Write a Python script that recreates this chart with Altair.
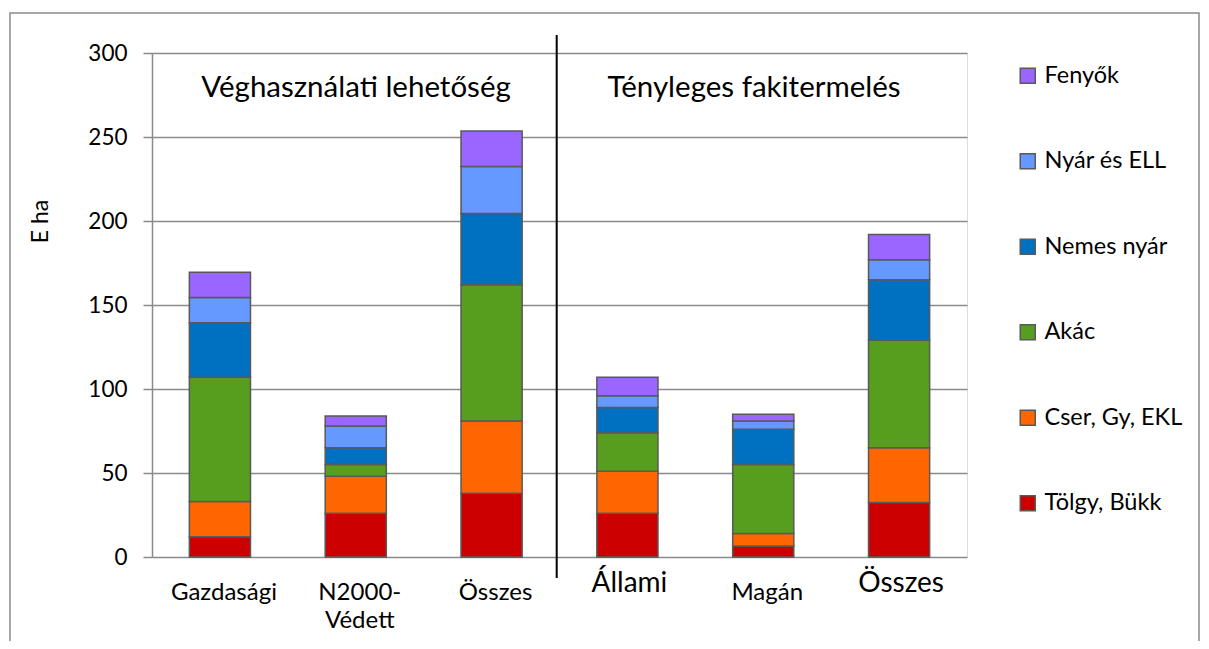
import altair as alt
import pandas as pd

# ---- data ----
groups = ["G", "N", "O1", "A", "M", "O2"]
group_labels = ["Gazdasági", "N2000-\nVédett", "Összes", "Állami", "Magán", "Összes"]
big_label_groups = ["A", "O2"]

species = ["Tölgy, Bükk", "Cser, Gy, EKL", "Akác", "Nemes nyár", "Nyár és ELL", "Fenyők"]
colors = ["#CC0000", "#FF6600", "#589E1E", "#0070C0", "#6699FF", "#9966FF"]

tolgy = [12, 26, 38, 26, 6.5, 32.5]
cser = [21, 22, 43, 25, 7.5, 32.5]
akac = [74, 7, 81, 23, 41, 64]
nemes = [32.5, 10, 42.5, 15, 21, 36]
nyar = [15, 13, 28, 7, 5, 12]
fenyo = [15, 6, 21, 11, 4, 15]

y_ticks = [0, 50, 100, 150, 200, 250, 300]
section_titles = ["Véghasználati lehetőség", "Tényleges fakitermelés"]

series = [tolgy, cser, akac, nemes, nyar, fenyo]
rows = []
for si, (sp, vals) in enumerate(zip(species, series)):
    for g, v in zip(groups, vals):
        rows.append({"group": g, "species": sp, "value": v, "ord": si})
df = pd.DataFrame(rows)

lab_df = pd.DataFrame({"group": groups, "label": group_labels})

FONT = "Lato"
GRID = "#8a8a8a"

x_enc = alt.X(
    "group:N",
    sort=groups,
    scale=alt.Scale(domain=groups, paddingInner=0.55, paddingOuter=0.275),
    axis=None,
)

bars = alt.Chart(df).mark_bar(stroke="#595959", strokeWidth=1.5).encode(
    x=x_enc,
    y=alt.Y(
        "value:Q",
        stack="zero",
        scale=alt.Scale(domain=[0, 300], nice=False),
        axis=alt.Axis(
            values=y_ticks,
            grid=True,
            gridColor=GRID,
            gridWidth=1.5,
            domainColor=GRID,
            domainWidth=1.5,
            tickColor=GRID,
            tickWidth=1.5,
            tickSize=9,
            labelFont=FONT,
            labelFontSize=22.5,
            labelColor="black",
            labelPadding=16,
            title="E ha",
            titleFont=FONT,
            titleFontSize=23,
            titleFontWeight="normal",
            titleColor="black",
            titleX=-112,
            titleY=168,
            titleAngle=270,
            titleAlign="center",
            titleBaseline="middle",
        ),
    ),
    color=alt.Color(
        "species:N",
        scale=alt.Scale(domain=species[::-1], range=colors[::-1]),
        legend=alt.Legend(
            title=None,
            orient="none",
            legendX=864,
            legendY=11,
            padding=0,
            rowPadding=60.5,
            symbolType="square",
            symbolSize=225,
            symbolStrokeColor="#595959",
            symbolStrokeWidth=1.5,
            symbolOpacity=1,
            labelFont=FONT,
            labelFontSize=23.5,
            labelColor="black",
            labelOffset=5,
        ),
    ),
    order=alt.Order("ord:Q"),
)

small_labels = alt.Chart(lab_df).transform_filter(
    alt.FieldOneOfPredicate(field="group", oneOf=["G", "N", "O1", "M"])
).mark_text(
    font=FONT, fontSize=24, align="center", baseline="alphabetic",
    dx=4, lineBreak="\n", lineHeight=28, color="black"
).encode(x=x_enc, y=alt.value(547), text="label:N")

big_labels = alt.Chart(lab_df).transform_filter(
    alt.FieldOneOfPredicate(field="group", oneOf=big_label_groups)
).mark_text(
    font=FONT, fontSize=28, align="center", baseline="alphabetic",
    dx=2, color="black"
).encode(x=x_enc, y=alt.value(539), text="label:N")

sep = alt.Chart(pd.DataFrame({"a": [0]})).mark_rule(color="black", strokeWidth=2).encode(
    x=alt.value(404.7), y=alt.value(-18), y2=alt.value(525)
)

title_left = alt.Chart(pd.DataFrame({"t": [section_titles[0]]})).mark_text(
    font=FONT, fontSize=29.5, align="center", baseline="middle", color="black"
).encode(x=alt.value(204), y=alt.value(35), text="t:N")

title_right = alt.Chart(pd.DataFrame({"t": [section_titles[1]]})).mark_text(
    font=FONT, fontSize=29.5, align="center", baseline="middle", color="black"
).encode(x=alt.value(602), y=alt.value(35), text="t:N")

border = alt.Chart(pd.DataFrame({"a": [0]})).mark_rect(
    fill="transparent", stroke=GRID, strokeWidth=1.5
).encode(x=alt.value(-142), x2=alt.value(1047), y=alt.value(-40), y2=alt.value(600))

chart = alt.layer(
    border, bars, sep, title_left, title_right, small_labels, big_labels
).properties(
    width=815,
    height=504,
    autosize=alt.AutoSizeParams(type="none"),
    padding={"left": 144, "top": 45, "right": 234, "bottom": 84},
    background="white",
).configure_view(stroke=None).configure(font=FONT)

chart.save("out.html", embed_options={"renderer": "svg", "actions": False})
